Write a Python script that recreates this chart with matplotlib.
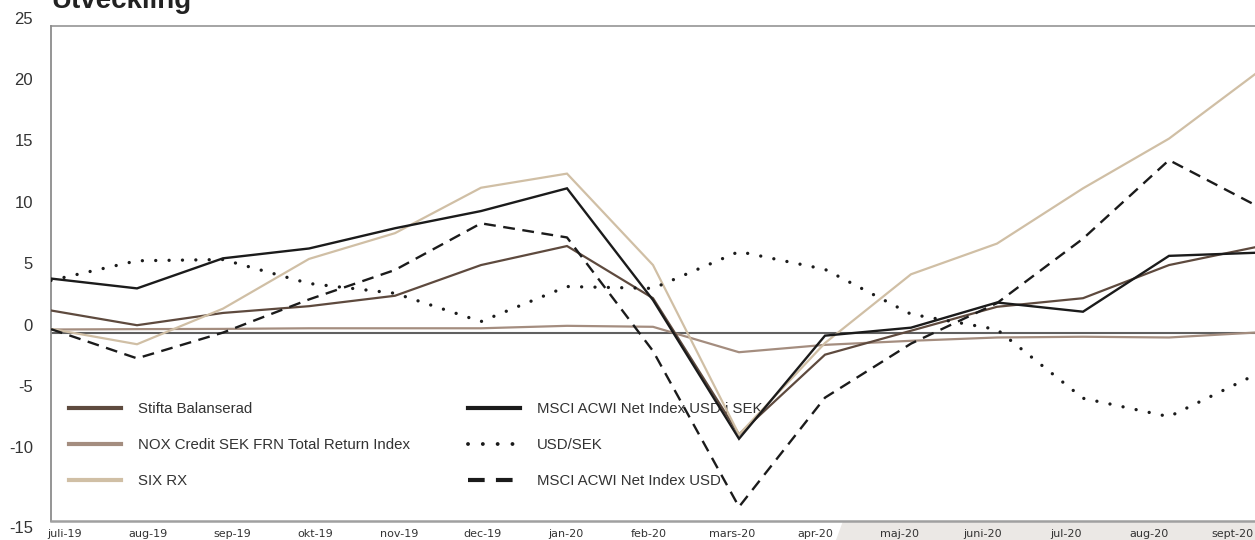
import numpy as np
import matplotlib
matplotlib.use("Agg")
import matplotlib.pyplot as plt
from matplotlib.lines import Line2D
from matplotlib.patches import Polygon
from matplotlib.transforms import offset_copy

# ---- data ---------------------------------------------------------------
months = ["juli-19", "aug-19", "sep-19", "okt-19", "nov-19", "dec-19", "jan-20",
          "feb-20", "mars-20", "apr-20", "maj-20", "juni-20", "jul-20", "aug-20",
          "sept-20"]

stifta_balanserad = [1.8, 0.6, 1.6, 2.15, 3.0, 5.5, 7.05, 2.8, -8.3, -1.8,
                     0.15, 2.1, 2.8, 5.5, 6.95]
nox_credit = [0.25, 0.28, 0.3, 0.35, 0.35, 0.35, 0.55, 0.47, -1.6, -1.0,
              -0.67, -0.4, -0.34, -0.4, 0.0]
six_rx = [0.3, -0.95, 1.95, 6.0, 8.1, 11.8, 12.95, 5.5, -8.3, -0.85,
          4.75, 7.25, 11.75, 15.8, 21.05]
msci_usd_sek = [4.4, 3.6, 6.05, 6.85, 8.5, 9.9, 11.75, 2.65, -8.65, -0.25,
                0.4, 2.45, 1.7, 6.25, 6.5]
usd_sek = [4.25, 5.85, 5.95, 4.0, 3.2, 0.9, 3.75, 3.6, 6.6, 5.15,
           1.5, 0.25, -5.35, -6.85, -3.45]
msci_usd = [0.28, -2.1, 0.0, 2.7, 5.1, 8.9, 7.75, -1.5, -14.2, -5.3,
            -0.9, 2.4, 7.65, 14.05, 10.4]

y_ticks = [25, 20, 15, 10, 5, 0, -5, -10, -15]
title = "Utveckling"

# ---- style --------------------------------------------------------------
C_STIFTA = "#5e4a3e"
C_NOX = "#a48d7f"
C_SIX = "#d0bfa5"
C_BLACK = "#1b1b1b"
C_TEXT = "#333333"
SANS = ["Liberation Sans", "DejaVu Sans"]

W, H = 1255, 540
fig = plt.figure(figsize=(W / 100, H / 100), dpi=100)
fig.patch.set_facecolor("white")

left_px, right_px, top_px, bottom_px = 51, 1255, 25.7, 521
ax = fig.add_axes([left_px / W, 1 - bottom_px / H,
                   (right_px - left_px) / W, (bottom_px - top_px) / H])

x = np.arange(len(months))
px_per_month = 86.0
ax.set_xlim(0, (right_px - left_px) / px_per_month)
ax.set_ylim(-15.35, 25)

# zero line
ax.axhline(0, color="#606060", lw=1.5, zorder=2)

ax.plot(x, nox_credit, color=C_NOX, lw=1.6, zorder=3, solid_joinstyle="miter")
ax.plot(x, stifta_balanserad, color=C_STIFTA, lw=1.6, zorder=3, solid_joinstyle="miter")
ax.plot(x, six_rx, color=C_SIX, lw=1.6, zorder=3, solid_joinstyle="miter")
ax.plot(x, usd_sek, color=C_BLACK, lw=2.4, zorder=4,
        linestyle=(0, (0.01, 4.0)), dash_capstyle="round")
ax.plot(x, msci_usd, color=C_BLACK, lw=1.7, zorder=4,
        linestyle=(0, (5.0, 3.2)), dash_capstyle="butt")
ax.plot(x, msci_usd_sek, color=C_BLACK, lw=1.7, zorder=4, solid_joinstyle="miter")

# frame
ax.spines["right"].set_visible(False)
ax.spines["left"].set_color("#8c8c8c")
ax.spines["left"].set_linewidth(1.3)
ax.spines["top"].set_color("#8c8c8c")
ax.spines["top"].set_linewidth(1.1)
ax.spines["bottom"].set_color("#a0a0a0")
ax.spines["bottom"].set_linewidth(1.8)

# month labels, evenly spread along the bottom
ax.set_yticks([])
tick_pos = np.arange(len(months)) * 0.970 + 0.163
ax.set_xticks(tick_pos, months)
ax.tick_params(axis="x", length=0, pad=6, labelsize=8, labelcolor=C_TEXT)
for lab in ax.get_xticklabels():
    lab.set_fontfamily("DejaVu Sans")

# value labels on the left
ytrans = ax.get_yaxis_transform()
for v in y_ticks:
    dy = -12 if v == -15 else 6.5
    tr = offset_copy(ytrans, fig=fig, x=-18, y=dy, units="dots")
    ax.text(0, v, str(v), transform=tr, ha="right", va="center",
            fontsize=12, color=C_TEXT, family=SANS, clip_on=False)

# title
fig.text(51 / W, 1 - 8 / H, title, ha="left", va="baseline",
         fontsize=20, fontweight="bold", color="#222222", family=SANS)

# legends
leg_kw = dict(frameon=False, handlelength=3.47, handletextpad=1.13,
              labelspacing=1.47, borderpad=0, borderaxespad=0,
              loc="center left", bbox_transform=fig.transFigure,
              prop={"family": SANS, "size": 10.8})

h_left = [Line2D([], [], color=C_STIFTA, lw=3.0),
          Line2D([], [], color=C_NOX, lw=3.0),
          Line2D([], [], color=C_SIX, lw=3.0)]
l_left = ["Stifta Balanserad", "NOX Credit SEK FRN Total Return Index", "SIX RX"]
h_right = [Line2D([], [], color=C_BLACK, lw=3.0),
           Line2D([], [], color=C_BLACK, lw=2.8, linestyle=(0, (0.01, 3.8)),
                  dash_capstyle="round"),
           Line2D([], [], color=C_BLACK, lw=3.0, linestyle=(0, (4.0, 2.7)))]
l_right = ["MSCI ACWI Net Index USD i SEK", "USD/SEK", "MSCI ACWI Net Index USD"]

leg1 = ax.legend(h_left, l_left, bbox_to_anchor=(69 / W, 1 - 445 / H), **leg_kw)
for t in leg1.get_texts():
    t.set_color(C_TEXT)
leg1.set_zorder(1)
ax.add_artist(leg1)
leg2 = ax.legend(h_right, l_right, bbox_to_anchor=(468 / W, 1 - 445 / H), **leg_kw)
for t in leg2.get_texts():
    t.set_color(C_TEXT)
leg2.set_zorder(1)

# light panel behind the lower right labels
panel = Polygon([(843 / W, 1 - 521 / H), (1.0, 1 - 521 / H), (1.0, 0.0),
                 (836 / W, 0.0)], closed=True, transform=fig.transFigure,
                facecolor="#ebe8e5", edgecolor="none", zorder=-1)
fig.patches.append(panel)

fig.savefig("out.png", dpi=100)
